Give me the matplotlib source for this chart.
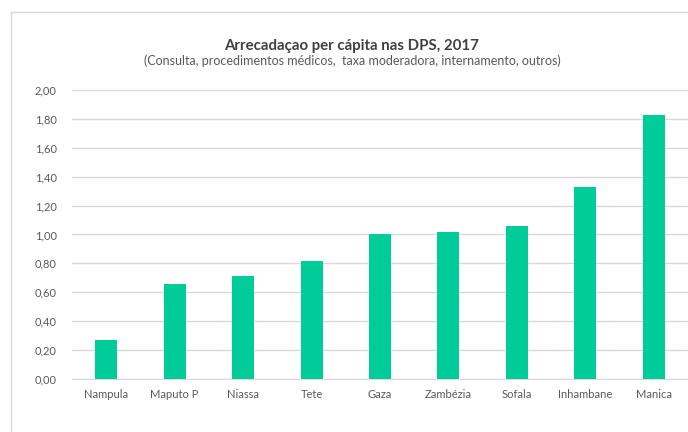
import matplotlib
matplotlib.use("Agg")
import matplotlib.pyplot as plt
from matplotlib.lines import Line2D
import numpy as np

provinces = ["Nampula", "Maputo P", "Niassa", "Tete", "Gaza", "Zambézia", "Sofala", "Inhambane", "Manica"]
values = [0.27, 0.66, 0.71, 0.82, 1.00, 1.02, 1.06, 1.33, 1.83]
yticks = [0.0, 0.2, 0.4, 0.6, 0.8, 1.0, 1.2, 1.4, 1.6, 1.8, 2.0]

plt.rcParams['font.family'] = ['Lato', 'DejaVu Sans']

fig = plt.figure(figsize=(6.88, 4.32), dpi=100)
ax = fig.add_axes([72 / 688, 1 - 379 / 432, (688 - 72) / 688, (379 - 90) / 432])

x = np.arange(len(provinces))
ax.bar(x, values, width=0.32, color="#00CC99", zorder=3)

ax.set_xlim(-0.5, len(provinces) - 0.5)
ax.set_ylim(0, 2.0)
ax.set_yticks(yticks)
ax.set_yticklabels([f"{v:.2f}".replace(".", ",") for v in yticks])
ax.set_xticks(x)
ax.set_xticklabels(provinces)
ax.tick_params(axis="both", length=0, labelsize=8, labelcolor="#595959")
ax.tick_params(axis="y", pad=11)
ax.tick_params(axis="x", pad=7)
ax.grid(axis="y", color="#D9D9D9", linewidth=1, zorder=0)
for s in ["top", "right", "left"]:
    ax.spines[s].set_visible(False)
ax.spines["bottom"].set_color("#D9D9D9")

fig.text(0.5 + 8 / 688, 1 - 46 / 432, "Arrecadaçao per cápita nas DPS, 2017",
         ha="center", va="center", fontsize=10.8, fontweight="bold", color="#404040")
fig.text(0.5 + 8 / 688, 1 - 61 / 432,
         "(Consulta, procedimentos médicos,  taxa moderadora, internamento, outros)",
         ha="center", va="center", fontsize=9, color="#595959")

# chart border
fig.add_artist(Line2D([10.5 / 688, 10.5 / 688], [0, 1 - 12 / 432], color="#D9D9D9", lw=1))
fig.add_artist(Line2D([10.5 / 688, 1], [1 - 12 / 432, 1 - 12 / 432], color="#D9D9D9", lw=1))

fig.savefig("out.png", dpi=100)
